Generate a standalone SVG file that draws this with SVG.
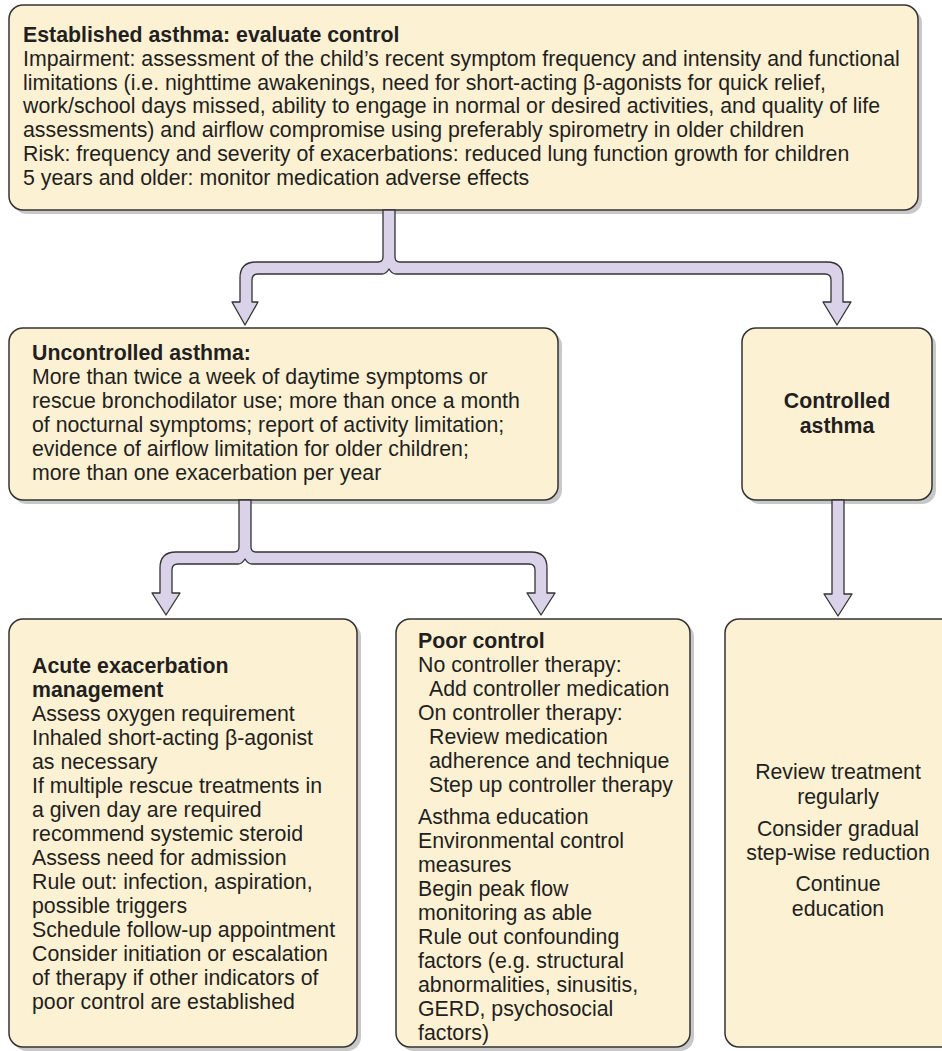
<svg xmlns="http://www.w3.org/2000/svg" width="942" height="1051" viewBox="0 0 942 1051">
<defs>
<style>
.box{fill:#FDF1D4;stroke:#333;stroke-width:1.5}
.shadow{fill:#c8c8c8}
.conn{fill:#D9D2E8;stroke:#333;stroke-width:1.3;stroke-linejoin:round}
text{font-family:"Liberation Sans",Arial,sans-serif;font-size:21.3px;fill:#231f20}
.b{font-weight:bold}
.c{text-anchor:middle}
</style>
</defs>
<rect width="942" height="1051" fill="#fff"/>
<g id="node-top">
<rect class="shadow" x="13" y="9" width="909" height="205" rx="14"/>
<rect class="box" x="9" y="5" width="909" height="205" rx="14"/>
<text x="23" y="42" class="b">Established asthma: evaluate control</text>
<text x="23" y="65.75">Impairment: assessment of the child’s recent symptom frequency and intensity and functional</text>
<text x="23" y="89.5">limitations (i.e. nighttime awakenings, need for short-acting β-agonists for quick relief,</text>
<text x="23" y="113.25">work/school days missed, ability to engage in normal or desired activities, and quality of life</text>
<text x="23" y="137">assessments) and airflow compromise using preferably spirometry in older children</text>
<text x="23" y="160.75">Risk: frequency and severity of exacerbations: reduced lung function growth for children</text>
<text x="23" y="184.5">5 years and older: monitor medication adverse effects</text>
</g>
<g id="node-uncontrolled">
<rect class="shadow" x="13" y="332" width="549" height="172" rx="14"/>
<rect class="box" x="9" y="328" width="549" height="172" rx="14"/>
<text x="32" y="359.5" class="b">Uncontrolled asthma:</text>
<text x="32" y="383.5">More than twice a week of daytime symptoms or</text>
<text x="32" y="407.5">rescue bronchodilator use; more than once a month</text>
<text x="32" y="431.5">of nocturnal symptoms; report of activity limitation;</text>
<text x="32" y="455.5">evidence of airflow limitation for older children;</text>
<text x="32" y="479.5">more than one exacerbation per year</text>
</g>
<g id="node-controlled">
<rect class="shadow" x="746" y="332" width="190" height="172" rx="14"/>
<rect class="box" x="742" y="328" width="190" height="172" rx="14"/>
<text x="837" y="408" class="b c">Controlled</text>
<text x="837" y="432.5" class="b c">asthma</text>
</g>
<g id="node-acute">
<rect class="shadow" x="13" y="623" width="348" height="428" rx="14"/>
<rect class="box" x="9" y="619" width="348" height="428" rx="14"/>
<text x="32" y="673" class="b">Acute exacerbation</text>
<text x="32" y="697" class="b">management</text>
<text x="32" y="721">Assess oxygen requirement</text>
<text x="32" y="745">Inhaled short-acting β-agonist</text>
<text x="32" y="769">as necessary</text>
<text x="32" y="793">If multiple rescue treatments in</text>
<text x="32" y="817">a given day are required</text>
<text x="32" y="841">recommend systemic steroid</text>
<text x="32" y="865">Assess need for admission</text>
<text x="32" y="889">Rule out: infection, aspiration,</text>
<text x="32" y="913">possible triggers</text>
<text x="32" y="937">Schedule follow-up appointment</text>
<text x="32" y="961">Consider initiation or escalation</text>
<text x="32" y="985">of therapy if other indicators of</text>
<text x="32" y="1009">poor control are established</text>
</g>
<g id="node-poor">
<rect class="shadow" x="400" y="623" width="294" height="428" rx="14"/>
<rect class="box" x="396" y="619" width="294" height="428" rx="14"/>
<text x="418" y="648" class="b">Poor control</text>
<text x="418" y="672">No controller therapy:</text>
<text x="429" y="696">Add controller medication</text>
<text x="418" y="720">On controller therapy:</text>
<text x="429" y="744">Review medication</text>
<text x="429" y="768">adherence and technique</text>
<text x="429" y="792">Step up controller therapy</text>
<text x="418" y="824">Asthma education</text>
<text x="418" y="848">Environmental control</text>
<text x="418" y="872">measures</text>
<text x="418" y="896">Begin peak flow</text>
<text x="418" y="920">monitoring as able</text>
<text x="418" y="944">Rule out confounding</text>
<text x="418" y="968">factors (e.g. structural</text>
<text x="418" y="992">abnormalities, sinusitis,</text>
<text x="418" y="1016">GERD, psychosocial</text>
<text x="418" y="1040">factors)</text>
</g>
<g id="node-review">
<rect class="box" x="725" y="619" width="230" height="428" rx="14"/>
<text x="838" y="779" class="c">Review treatment</text>
<text x="838" y="804" class="c">regularly</text>
<text x="838" y="836" class="c">Consider gradual</text>
<text x="838" y="860" class="c">step-wise reduction</text>
<text x="838" y="891" class="c">Continue</text>
<text x="838" y="916" class="c">education</text>
</g>
<g id="connectors">
<path class="conn" d="M383,210 L383,257 Q383,262 378,262 L256,262 Q240,262 240,278 L240,302 L232,302 L245,325 L258,302 L252,302 L252,280 Q252,274 258,274 L382,274 Q386,274 389,269 Q392,274 396,274 L825,274 Q831,274 831,280 L831,302 L823,302 L837,325 L851,302 L843,302 L843,278 Q843,262 827,262 L400,262 Q395,262 395,257 L395,210 Z"/>
<path class="conn" d="M239,500 L239,547 Q239,552 234,552 L176,552 Q160,552 160,568 L160,593 L152,593 L166,615 L180,593 L172,593 L172,570 Q172,564 178,564 L238,564 Q242,564 245,559 Q248,564 252,564 L529,564 Q535,564 535,570 L535,593 L527,593 L541,615 L555,593 L547,593 L547,568 Q547,552 531,552 L256,552 Q251,552 251,547 L251,500 Z"/>
<path class="conn" d="M832,500 L832,594 L824,594 L838,616 L852,594 L844,594 L844,500 Z"/>
</g>
</svg>
